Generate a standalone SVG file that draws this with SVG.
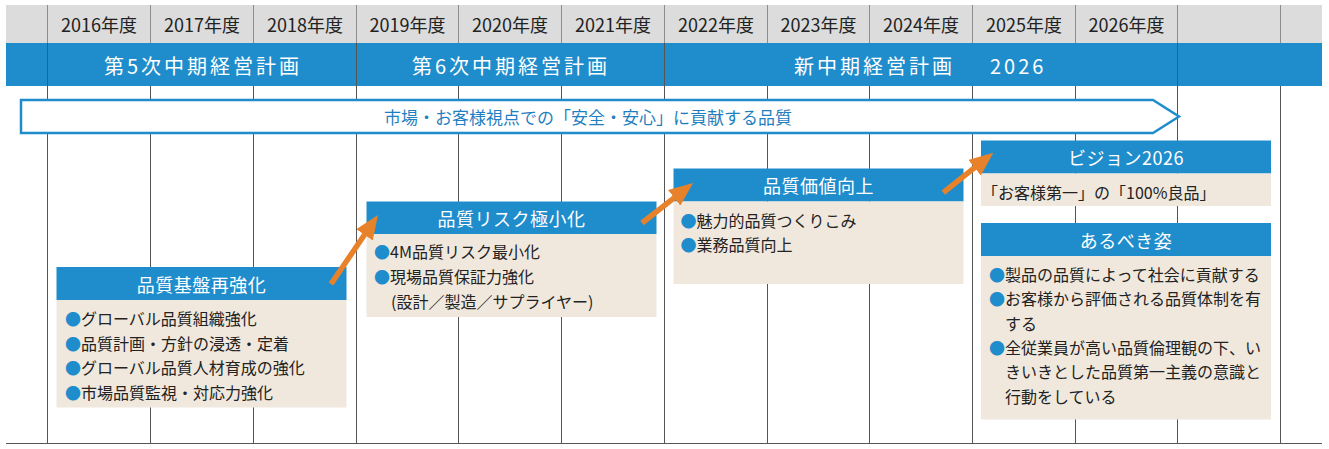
<svg xmlns="http://www.w3.org/2000/svg" width="1329" height="449" viewBox="0 0 1329 449">
<style>
text{font-family:"Noto Sans CJK JP","Noto Sans",sans-serif;}
.yr{font-size:18px;fill:#222;text-anchor:middle;dominant-baseline:central;}
.plan{font-size:20px;fill:#fff;letter-spacing:3px;dominant-baseline:central;}
.vl{stroke:#555;stroke-width:1;}
.hl{stroke:#8e8e8e;stroke-width:1;}
.head{fill:#1f8dcc;}
.body{fill:#f0e8dd;}
.ttl{font-size:18px;fill:#fff;text-anchor:middle;dominant-baseline:central;letter-spacing:0.5px;}
.tx{font-size:16px;fill:#222;dominant-baseline:central;}
.bl{fill:#1f8dcc;}
.conn{stroke:#e8822a;stroke-width:5.5;fill:none;marker-end:url(#ah);}
</style>
<defs>
<marker id="ah" markerUnits="userSpaceOnUse" markerWidth="24" markerHeight="20" viewBox="0 0 24 20" refX="4" refY="10" orient="auto">
<path d="M0,0 L24,10 L0,20 z" fill="#e8822a"/>
</marker>
</defs>
<rect x="0" y="0" width="1329" height="449" fill="#fff"/>
<g id="grid">
<rect x="6" y="5" width="1316" height="38" fill="#dcdcdc"/>
<rect x="6" y="43" width="1316" height="43" fill="#1f8dcc"/>
<g class="hl">
<line x1="47.5" y1="5" x2="47.5" y2="43"/>
<line x1="150.5" y1="5" x2="150.5" y2="43"/>
<line x1="253.5" y1="5" x2="253.5" y2="43"/>
<line x1="356.5" y1="5" x2="356.5" y2="43"/>
<line x1="458.5" y1="5" x2="458.5" y2="43"/>
<line x1="561.5" y1="5" x2="561.5" y2="43"/>
<line x1="664.5" y1="5" x2="664.5" y2="43"/>
<line x1="767.5" y1="5" x2="767.5" y2="43"/>
<line x1="869.5" y1="5" x2="869.5" y2="43"/>
<line x1="972.5" y1="5" x2="972.5" y2="43"/>
<line x1="1075.5" y1="5" x2="1075.5" y2="43"/>
<line x1="1177.5" y1="5" x2="1177.5" y2="43"/>
<line x1="1280.5" y1="5" x2="1280.5" y2="43"/>
</g>
<g class="vl">
<line x1="47.5" y1="43" x2="47.5" y2="86"/>
<line x1="356.5" y1="43" x2="356.5" y2="86"/>
<line x1="664.5" y1="43" x2="664.5" y2="86"/>
<line x1="1177.5" y1="43" x2="1177.5" y2="86"/>
<line x1="47.5" y1="86" x2="47.5" y2="443"/>
<line x1="150.5" y1="86" x2="150.5" y2="443"/>
<line x1="253.5" y1="86" x2="253.5" y2="443"/>
<line x1="356.5" y1="86" x2="356.5" y2="443"/>
<line x1="458.5" y1="86" x2="458.5" y2="443"/>
<line x1="561.5" y1="86" x2="561.5" y2="443"/>
<line x1="664.5" y1="86" x2="664.5" y2="443"/>
<line x1="767.5" y1="86" x2="767.5" y2="443"/>
<line x1="869.5" y1="86" x2="869.5" y2="443"/>
<line x1="972.5" y1="86" x2="972.5" y2="443"/>
<line x1="1075.5" y1="86" x2="1075.5" y2="443"/>
<line x1="1177.5" y1="86" x2="1177.5" y2="443"/>
<line x1="1280.5" y1="86" x2="1280.5" y2="443"/>
<line x1="6" y1="443.5" x2="1322" y2="443.5"/>
</g>
<text class="yr" x="99" y="24">2016年度</text>
<text class="yr" x="202" y="24">2017年度</text>
<text class="yr" x="305" y="24">2018年度</text>
<text class="yr" x="407.5" y="24">2019年度</text>
<text class="yr" x="510" y="24">2020年度</text>
<text class="yr" x="613" y="24">2021年度</text>
<text class="yr" x="716" y="24">2022年度</text>
<text class="yr" x="818.5" y="24">2023年度</text>
<text class="yr" x="921" y="24">2024年度</text>
<text class="yr" x="1024" y="24">2025年度</text>
<text class="yr" x="1126.5" y="24">2026年度</text>
<text class="plan" x="203" y="65" text-anchor="middle">第5次中期経営計画</text>
<text class="plan" x="511" y="65" text-anchor="middle">第6次中期経営計画</text>
<text class="plan" x="794" y="65">新中期経営計画</text>
<text class="plan" x="990" y="65">2026</text>
</g>
<g id="banner">
<polygon points="21,100 1153,100 1179,116.5 1153,133 21,133" fill="#fff" stroke="#1f8dcc" stroke-width="2.5"/>
<text x="588" y="116.5" font-size="17" fill="#1f7fc0" text-anchor="middle" dominant-baseline="central">市場・お客様視点での「安全・安心」に貢献する品質</text>
</g>
<g id="node-kiban">
<rect class="head" x="56.5" y="267" width="290" height="33"/>
<rect class="body" x="56.5" y="300" width="290" height="107.5"/>
<text class="ttl" x="201.5" y="283.5">品質基盤再強化</text>
<text class="tx" x="65" y="318"><tspan class="bl">●</tspan>グローバル品質組織強化</text>
<text class="tx" x="65" y="342.5"><tspan class="bl">●</tspan>品質計画・方針の浸透・定着</text>
<text class="tx" x="65" y="367"><tspan class="bl">●</tspan>グローバル品質人材育成の強化</text>
<text class="tx" x="65" y="391.5"><tspan class="bl">●</tspan>市場品質監視・対応力強化</text>
</g>
<g id="node-risk">
<rect class="head" x="366.5" y="201.5" width="290" height="32.5"/>
<rect class="body" x="366.5" y="234" width="290" height="83"/>
<text class="ttl" x="511.5" y="218">品質リスク極小化</text>
<text class="tx" x="374" y="251"><tspan class="bl">●</tspan>4M品質リスク最小化</text>
<text class="tx" x="374" y="276"><tspan class="bl">●</tspan>現場品質保証力強化</text>
<text class="tx" x="391" y="301">(設計／製造／サプライヤー)</text>
</g>
<g id="node-kachi">
<rect class="head" x="673.5" y="168.5" width="290" height="33"/>
<rect class="body" x="673.5" y="201.5" width="290" height="82.5"/>
<text class="ttl" x="818.5" y="185">品質価値向上</text>
<text class="tx" x="680.5" y="219.5"><tspan class="bl">●</tspan>魅力的品質つくりこみ</text>
<text class="tx" x="680.5" y="244"><tspan class="bl">●</tspan>業務品質向上</text>
</g>
<g id="node-vision">
<rect class="head" x="981" y="140.5" width="290" height="33"/>
<rect class="body" x="981" y="173.5" width="290" height="32.5"/>
<text class="ttl" x="1126" y="157">ビジョン2026</text>
<text class="tx" x="982" y="191.5">「お客様第一」の「100%良品」</text>
</g>
<g id="node-arubeki">
<rect class="head" x="981" y="223" width="290" height="33"/>
<rect class="body" x="981" y="256" width="290" height="163.5"/>
<text class="ttl" x="1126" y="239.5">あるべき姿</text>
<text class="tx" x="989" y="273.5"><tspan class="bl">●</tspan>製品の品質によって社会に貢献する</text>
<text class="tx" x="989" y="298"><tspan class="bl">●</tspan>お客様から評価される品質体制を有</text>
<text class="tx" x="1005" y="322.5">する</text>
<text class="tx" x="989" y="347"><tspan class="bl">●</tspan>全従業員が高い品質倫理観の下、い</text>
<text class="tx" x="1005" y="371">きいきとした品質第一主義の意識と</text>
<text class="tx" x="1005" y="396">行動をしている</text>
</g>
<g id="connectors">
<line class="conn" x1="331" y1="284" x2="366.7" y2="231.5"/>
<line class="conn" x1="642" y1="223" x2="677.3" y2="195.3"/>
<line class="conn" x1="943.3" y1="192.7" x2="977.7" y2="165.2"/>
</g>
</svg>
